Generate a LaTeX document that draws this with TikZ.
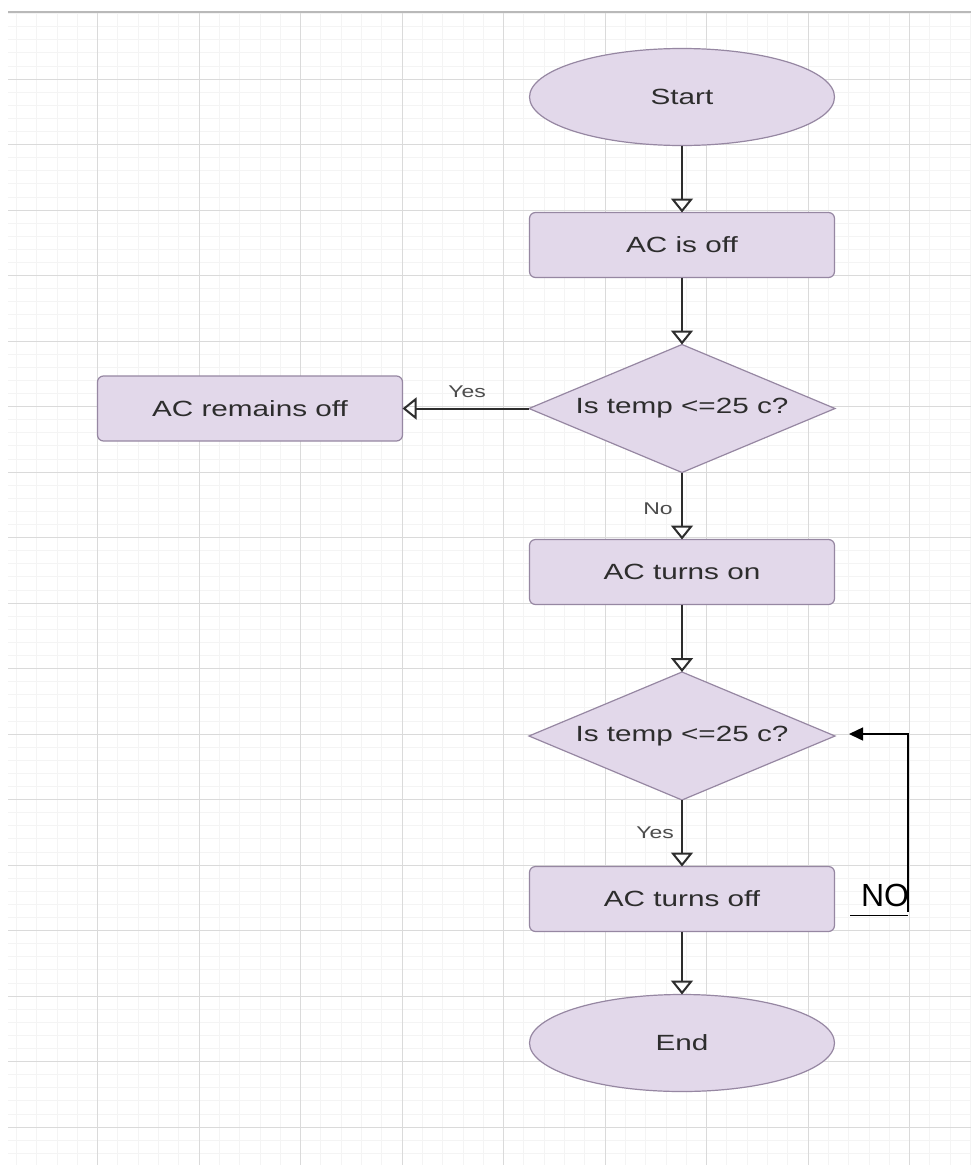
\documentclass[tikz,border=0pt]{standalone}
\usepackage{fontspec}
\setmainfont{Liberation Sans}
\newfontfamily\flowfont[FakeStretch=1.35]{Liberation Sans}
\usetikzlibrary{shapes,arrows.meta}
\definecolor{boxfill}{RGB}{226,216,234}
\definecolor{boxline}{RGB}{150,135,162}
\definecolor{txt}{RGB}{45,45,45}
\definecolor{gridmaj}{RGB}{218,218,218}
\definecolor{gridmin}{RGB}{244,244,244}

\begin{document}
\begin{tikzpicture}[x=1pt,y=-1pt]
\tikzstyle{every node}=[font=\flowfont\fontsize{22}{26}\selectfont, text=txt]
\tikzstyle{term}=[ellipse, draw=boxline, fill=boxfill, line width=1.2pt, minimum width=305pt, minimum height=97pt, inner sep=0pt, outer sep=0pt]
\tikzstyle{proc}=[rectangle, rounded corners=6pt, draw=boxline, fill=boxfill, line width=1.2pt, minimum width=305pt, minimum height=65pt, inner sep=0pt, outer sep=0pt]
\tikzstyle{dec}=[diamond, aspect=2.4, draw=boxline, fill=boxfill, line width=1.2pt, minimum width=306pt, minimum height=128pt, inner sep=0pt, outer sep=0pt]
\tikzstyle{flow}=[draw=txt, line width=2pt, -{Triangle[open, width=22pt, length=14pt]}]
\tikzstyle{lbl}=[font=\flowfont\fontsize{17}{20}\selectfont, text=txt!85]
% page and grid
\fill[white] (0,0) rectangle (971,1165);
\useasboundingbox (0,0) rectangle (971,1165);
\begin{scope}
\clip (8,12) rectangle (971,1165);
\foreach \i in {0,...,47} \draw[gridmin, line width=0.8pt] ({16.3+20.3*\i},12) -- ++(0,1153);
\foreach \j in {0,...,88} \draw[gridmin, line width=0.8pt] (8,{13.5+13.1*\j}) -- ++(963,0);
\foreach \i in {0,...,8} \draw[gridmaj, line width=1pt] ({97.5+101.5*\i},12) -- ++(0,1153);
\foreach \j in {0,...,16} \draw[gridmaj, line width=1pt] (8,{79+65.5*\j}) -- ++(963,0);
\end{scope}
\draw[gridmaj!85!black, line width=1.5pt] (8,12) -- (971,12);
% flowchart
\node[term] (start) at (682,97) {Start};
\node[proc] (acoff) at (682,245) {AC is off};
\node[dec] (check1) at (682,408.5) {Is temp <=25 c?};
\node[proc] (remain) at (250,408.5) {AC remains off};
\node[proc] (acon) at (682,572) {AC turns on};
\node[dec] (check2) at (682,736) {Is temp <=25 c?};
\node[proc] (acoff2) at (682,899) {AC turns off};
\node[term] (stop) at (682,1043) {End};
\draw[flow] (start) -- (acoff);
\draw[flow] (acoff) -- (check1);
\draw[flow] (check1) -- (remain);
\draw[flow] (check1) -- (acon);
\draw[flow] (acon) -- (check2);
\draw[flow] (check2) -- (acoff2);
\draw[flow] (acoff2) -- (stop);
\node[lbl] (yes1) at (467,392) {Yes};
\node[lbl] (no1) at (658,509) {No};
\node[lbl] (yes2) at (655,833) {Yes};
% hand drawn loop
\coordinate (loopstart) at (908,912);
\coordinate (looptip) at (849,734);
\coordinate (ulleft) at (850,915);
\coordinate (ulright) at (908,915);
\draw[black, line width=1.5pt, -{Triangle[width=13pt, length=14pt]}] (loopstart) |- (looptip);
\draw[black, line width=1pt] (ulleft) -- (ulright);
\node[font=\fontsize{32}{36}\selectfont, text=black] (notext) at (885,895) {NO};
\end{tikzpicture}
\end{document}
